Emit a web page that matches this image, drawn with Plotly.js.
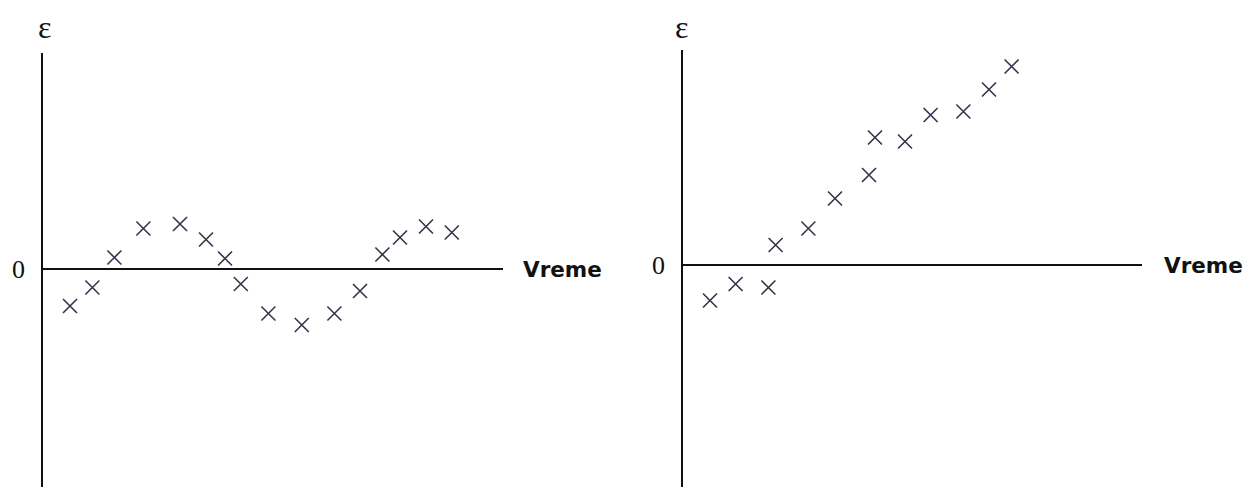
<!DOCTYPE html>
<html>
<head>
<meta charset="utf-8">
<script src="https://cdn.plot.ly/plotly-3.0.1.min.js"></script>
<style>html,body{margin:0;padding:0;background:#fff;}#chart{width:1248px;height:487px;}</style>
</head>
<body>
<div id="chart"></div>
<script>
// Left panel: residuals oscillating around zero
const leftTime = [1.35, 2.47, 3.57, 5.02, 6.85, 8.15, 9.10, 9.89, 11.27, 12.94, 14.57, 15.85, 16.97, 17.85, 19.15, 20.44];
const leftEps  = [-0.74, -0.37, 0.23, 0.81, 0.90, 0.59, 0.21, -0.30, -0.89, -1.12, -0.89, -0.44, 0.29, 0.63, 0.85, 0.73];
// Right panel: residuals trending upward
const rightTime = [1.35, 2.63, 4.27, 4.63, 6.27, 7.60, 9.30, 9.60, 11.10, 12.38, 14.02, 15.30, 16.43];
const rightEps  = [-0.71, -0.38, -0.45, 0.40, 0.73, 1.33, 1.80, 2.55, 2.47, 3.00, 3.07, 3.51, 3.97];

const yLabel = 'ε';
const xLabel = 'Vreme';
const zeroLabel = '0';

const W = 1248, H = 487;
const markerStyle = {symbol: 'x-thin', size: 14, line: {color: '#34344a', width: 1.6}, color: '#34344a'};

const traces = [
  {x: leftTime, y: leftEps, type: 'scatter', mode: 'markers', marker: markerStyle, xaxis: 'x', yaxis: 'y', hoverinfo: 'skip'},
  {x: rightTime, y: rightEps, type: 'scatter', mode: 'markers', marker: markerStyle, xaxis: 'x2', yaxis: 'y2', hoverinfo: 'skip'}
];

const axisY = (domTop, range, anchor) => ({
  domain: [0, domTop], range: range, anchor: anchor,
  showline: true, linecolor: '#111', linewidth: 2,
  zeroline: true, zerolinecolor: '#111', zerolinewidth: 2,
  showgrid: false, showticklabels: false, ticks: '', fixedrange: true
});
const axisX = (domain, range, anchor) => ({
  domain: domain, range: range, anchor: anchor,
  showline: false, zeroline: false, showgrid: false,
  showticklabels: false, ticks: '', fixedrange: true
});

const lbl = (text, x, xref, y, yref, size, family, bold, xanchor) => ({
  text: bold ? '<b>' + text + '</b>' : text,
  x: x, xref: xref, y: y, yref: yref,
  xanchor: xanchor, yanchor: 'middle', showarrow: false,
  font: {size: size, family: family, color: '#111'}
});

const layout = {
  width: W, height: H,
  margin: {l: 0, r: 0, t: 0, b: 0},
  paper_bgcolor: '#fff', plot_bgcolor: '#fff',
  showlegend: false,
  xaxis: axisX([43 / W, 503 / W], [0, 23.0], 'y'),
  yaxis: axisY(1 - 53 / H, [-4.36, 4.32], 'x'),
  xaxis2: axisX([683 / W, 1142 / W], [0, 22.95], 'y2'),
  yaxis2: axisY(1 - 50 / H, [-4.44, 4.30], 'x2'),
  annotations: [
    lbl(yLabel, 44.5 / W, 'paper', 1 - 27 / H, 'paper', 32, 'Liberation Serif, serif', false, 'center'),
    lbl(yLabel, 682 / W, 'paper', 1 - 27 / H, 'paper', 32, 'Liberation Serif, serif', false, 'center'),
    lbl(zeroLabel, 18.5 / W, 'paper', 0, 'y', 26, 'Liberation Serif, serif', false, 'center'),
    lbl(zeroLabel, 658.5 / W, 'paper', 0, 'y2', 26, 'Liberation Serif, serif', false, 'center'),
    lbl(xLabel, 521 / W, 'paper', 0, 'y', 21.5, 'DejaVu Sans, sans-serif', true, 'left'),
    lbl(xLabel, 1162 / W, 'paper', 0, 'y2', 21.5, 'DejaVu Sans, sans-serif', true, 'left')
  ]
};

Plotly.newPlot('chart', traces, layout, {staticPlot: true, displayModeBar: false});
</script>
</body>
</html>
